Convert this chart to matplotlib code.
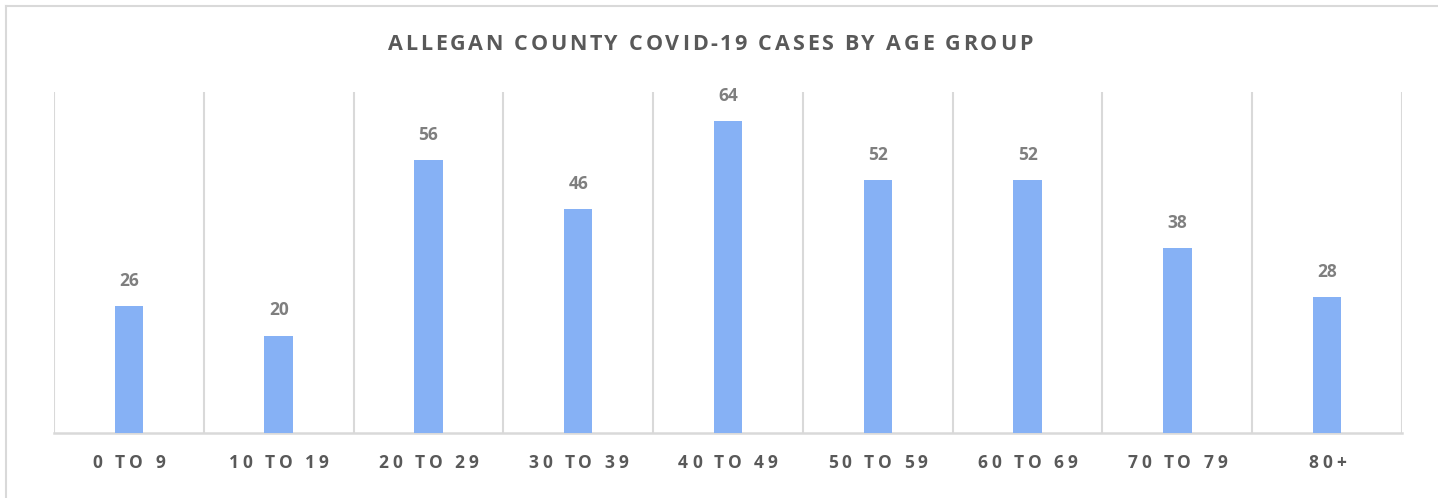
import matplotlib.pyplot as plt
from matplotlib.lines import Line2D
from matplotlib.font_manager import FontProperties
import numpy as np

# data
age_groups = ["0 TO 9", "10 TO 19", "20 TO 29", "30 TO 39", "40 TO 49",
              "50 TO 59", "60 TO 69", "70 TO 79", "80+"]
cases = [26, 20, 56, 46, 64, 52, 52, 38, 28]
title = "ALLEGAN COUNTY COVID-19 CASES BY AGE GROUP"

bar_color = "#86b1f5"
grid_color = "#d9d9d9"
text_dark = "#595959"
text_light = "#7f7f7f"
font = "Open Sans"

W, H = 1438, 498
fig = plt.figure(figsize=(W / 100, H / 100), dpi=100)
ax = fig.add_axes([54 / W, 1 - 433 / H, (1402 - 54) / W, (433 - 92) / H])
renderer = fig.canvas.get_renderer()


def char_width(ch, prop):
    # advance width of one char, measured between two H's so spaces count
    w2 = renderer.get_text_width_height_descent("HH", prop, ismath=False)[0]
    w3 = renderer.get_text_width_height_descent("H" + ch + "H", prop, ismath=False)[0]
    return w3 - w2


def tracked_text(s, cx, y, size, track, color):
    # letter-spaced text centred on pixel x = cx, baseline at pixel y from top
    prop = FontProperties(family=font, weight="bold", size=size)
    widths = [char_width(c, prop) for c in s]
    total = sum(widths) + track * (len(s) - 1)
    xpos = cx - total / 2
    for c, w in zip(s, widths):
        if c != " ":
            fig.text(xpos / W, 1 - y / H, c, ha="left", va="baseline",
                     fontproperties=prop, color=color)
        xpos += w + track


x = np.arange(len(age_groups))
ax.bar(x, cases, width=0.19, color=bar_color, zorder=3)

for xi, v in zip(x, cases):
    ax.text(xi, v + 3.3, str(v), ha="center", va="bottom", fontsize=12.5,
            fontweight="bold", color=text_light, family=font)

ax.set_xlim(-0.5, len(age_groups) - 0.5)
ax.set_ylim(0, 70)

# vertical separators between categories
for b in np.arange(-0.5, len(age_groups), 1.0):
    ax.axvline(b, color=grid_color, lw=1.5, zorder=1)

for s in ["top", "left", "right"]:
    ax.spines[s].set_visible(False)
ax.spines["bottom"].set_color(grid_color)
ax.spines["bottom"].set_linewidth(1.8)
ax.set_yticks([])
ax.set_xticks([])

# category labels
for xi, lab in zip(x, age_groups):
    px = ax.transData.transform((xi, 0))[0]
    tracked_text(lab, px, 468, 12.5, 3.9, text_dark)

tracked_text(title, 710, 50, 15.5, 2.7, text_dark)

# outer chart border (left and top edges visible)
fig.add_artist(Line2D([6 / W, 6 / W], [0, 1 - 6 / H], transform=fig.transFigure,
                      color=grid_color, lw=1.5))
fig.add_artist(Line2D([6 / W, 1], [1 - 6 / H, 1 - 6 / H], transform=fig.transFigure,
                      color=grid_color, lw=1.5))

fig.savefig("out.png", dpi=100)
